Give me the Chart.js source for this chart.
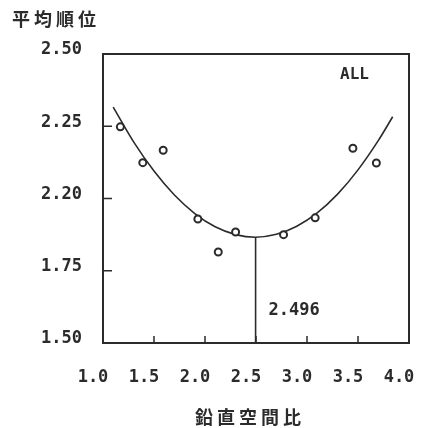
<!DOCTYPE html>
<html>
<head>
<meta charset="utf-8">
<script src="https://cdn.jsdelivr.net/npm/chart.js@4.4.1/dist/chart.umd.min.js"></script>
<style>
  html, body { margin: 0; padding: 0; background: #fff; }
  canvas { display: block; }
</style>
</head>
<body>
<canvas id="rankChart" width="421" height="428"></canvas>
<script>
// measured points: vertical spacing ratio vs mean rank
const spacingRatio = [1.17, 1.39, 1.59, 1.93, 2.13, 2.30, 2.77, 3.08, 3.45, 3.68];
const meanRank = [2.248, 2.124, 2.167, 1.929, 1.815, 1.884, 1.875, 1.933, 2.174, 2.123];

// fitted curve
const curveX = [1.10, 1.30, 1.50, 1.70, 1.90, 2.10, 2.30, 2.496, 2.70, 2.90, 3.10, 3.30, 3.50, 3.70, 3.84];
const curveY = [2.316, 2.196, 2.095, 2.012, 1.948, 1.902, 1.875, 1.866, 1.876, 1.904, 1.950, 2.015, 2.099, 2.201, 2.283];

const optimumX = 2.496;
const optimumY = 1.866;

const xTicks = [1.0, 1.5, 2.0, 2.5, 3.0, 3.5, 4.0];
const yTicks = [1.50, 1.75, 2.00, 2.25, 2.50];
const yTickLabels = ["1.50", "1.75", "2.20", "2.25", "2.50"];

const ink = "#2b2b2b";
const monoFont = "'DejaVu Sans Mono', monospace";

// frame, inner tick marks and the loose labels
const frame = {
  id: "frame",
  afterDatasetsDraw(chart) {
    const { ctx, chartArea: a, scales: { x, y } } = chart;
    ctx.save();
    ctx.strokeStyle = ink;
    ctx.lineWidth = 2;
    ctx.strokeRect(a.left, a.top, a.right - a.left, a.bottom - a.top);
    ctx.lineWidth = 1.5;
    ctx.beginPath();
    xTicks.slice(1, -1).forEach((v) => {
      const px = x.getPixelForValue(v);
      ctx.moveTo(px, a.bottom);
      ctx.lineTo(px, a.bottom - 7);
    });
    yTicks.slice(1, -1).forEach((v) => {
      const py = y.getPixelForValue(v);
      ctx.moveTo(a.left, py);
      ctx.lineTo(a.left + 9, py);
    });
    ctx.stroke();

    ctx.fillStyle = ink;
    ctx.textBaseline = "middle";
    ctx.font = "bold 18px 'Noto Sans CJK JP'";
    ctx.letterSpacing = "4px";
    ctx.textAlign = "left";
    ctx.fillText("平均順位", 12, 19);
    ctx.fillText("鉛直空間比", 195, 417);
    ctx.letterSpacing = "0px";
    ctx.font = "bold 16px " + monoFont;
    ctx.fillText("ALL", 340, 75);
    ctx.font = "bold 17px " + monoFont;
    ctx.fillText(optimumX.toFixed(3), x.getPixelForValue(optimumX) + 13, 311);
    ctx.restore();
  },
};

const ctx = document.getElementById("rankChart");
new Chart(ctx, {
  type: "scatter",
  data: {
    datasets: [
      {
        label: "points",
        data: spacingRatio.map((v, i) => ({ x: v, y: meanRank[i] })),
        pointRadius: 3.5,
        pointBorderWidth: 2,
        pointBackgroundColor: "#fff",
        pointBorderColor: ink,
        order: 0,
      },
      {
        label: "fit",
        type: "line",
        data: curveX.map((v, i) => ({ x: v, y: curveY[i] })),
        borderColor: ink,
        borderWidth: 1.6,
        pointRadius: 0,
        cubicInterpolationMode: "monotone",
        fill: false,
        order: 1,
      },
      {
        label: "optimum",
        type: "line",
        data: [
          { x: optimumX, y: 1.5 },
          { x: optimumX, y: optimumY },
        ],
        borderColor: ink,
        borderWidth: 1.6,
        pointRadius: 0,
        fill: false,
        order: 2,
      },
    ],
  },
  options: {
    responsive: false,
    animation: false,
    layout: { padding: { top: 54, right: 12, left: 0, bottom: 0 } },
    plugins: {
      legend: { display: false },
      tooltip: { enabled: false },
    },
    scales: {
      x: {
        type: "linear",
        min: 1,
        max: 4,
        grid: { display: false, drawTicks: false },
        border: { display: false },
        afterFit: (s) => {
          s.height = 85;
          s.paddingLeft = 0;
          s.paddingRight = 0;
        },
        afterBuildTicks: (s) => {
          s.ticks = xTicks.map((v) => ({ value: v }));
        },
        ticks: {
          autoSkip: false,
          maxRotation: 0,
          padding: 24,
          labelOffset: -10,
          color: ink,
          font: { family: monoFont, size: 17, weight: "bold" },
          callback: (v) => Number(v).toFixed(1),
        },
      },
      y: {
        min: 1.5,
        max: 2.5,
        grid: { display: false, drawTicks: false },
        border: { display: false },
        afterFit: (s) => {
          s.width = 103;
        },
        afterBuildTicks: (s) => {
          s.ticks = yTicks.map((v) => ({ value: v }));
        },
        ticks: {
          padding: 21,
          labelOffset: -4,
          color: ink,
          font: { family: monoFont, size: 17, weight: "bold" },
          callback: (v) => yTickLabels[yTicks.indexOf(Number(v))],
        },
      },
    },
  },
  plugins: [frame],
});
</script>
</body>
</html>
